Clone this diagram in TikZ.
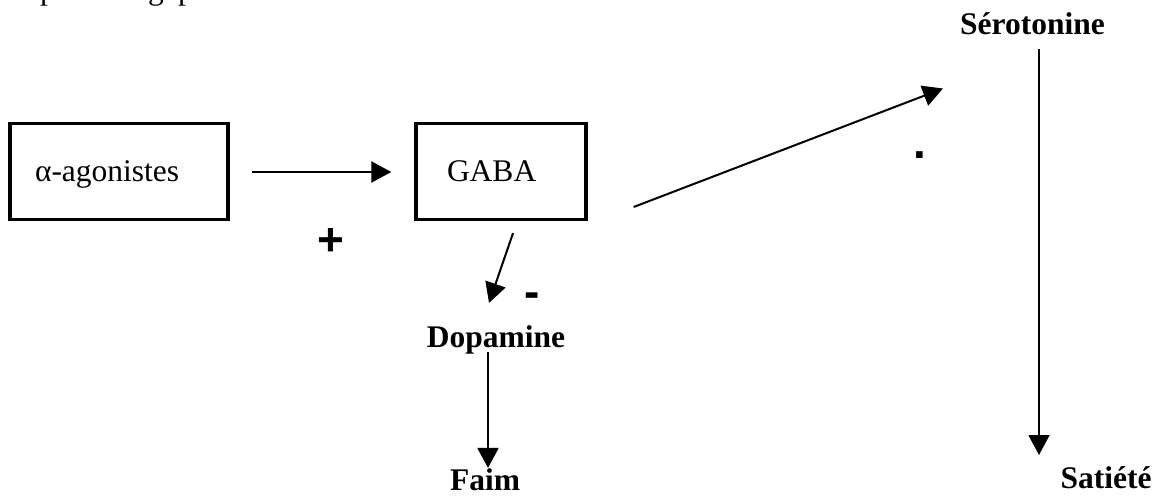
\documentclass[tikz,border=0pt]{standalone}
\usepackage{fontspec}
\setmainfont{Liberation Serif}
\newfontfamily\signfont{Liberation Sans}
\usetikzlibrary{arrows.meta}

\begin{document}
\begin{tikzpicture}[x=1pt,y=-1pt,
  every node/.style={inner sep=0pt, font=\fontsize{31.5}{38}\selectfont},
  box/.style={draw, line width=3.3pt, rectangle, minimum height=96pt,
    align=left, text height=23pt, text depth=3pt},
  term/.style={font=\fontsize{31.5}{38}\selectfont\bfseries, anchor=base},
  sign/.style={font=\fontsize{46}{50}\selectfont\signfont\bfseries, anchor=base},
  arr/.style={line width=2pt, -{Triangle[length=20pt,width=21pt]}},
]
\useasboundingbox (0,0) rectangle (1159,497);

% descenders of the line of text running above the page
\begin{scope}
  \clip (0,0) rectangle (1159,497);
  \node[anchor=base west] (frag1) at (40,0) {p};
  \node[anchor=base west] (frag2) at (148,0) {g};
  \node[anchor=base west] (frag3) at (178,0) {p};
\end{scope}

% boxes
\node[box, inner xsep=25pt, text width=168pt] (ago) at (119,171.5) {α-agonistes};
\node[box, inner xsep=31pt, text width=108pt] (gaba) at (501,171.5) {GABA};

% neurotransmitters and effects
\node[term] (dop)  at (496,347)   {Dopamine};
\node[term] (faim) at (485,490)   {Faim};
\node[term] (sero) at (1032.5,35) {Sérotonine};
\node[term] (sat)  at (1106,488)  {Satiété};

% signs
\node[sign] (plus)  at (330.5,255) {+};
\node[sign] (minus) at (532.5,307) {-};
\node[sign] (dot)   at (920,159)   {.};

% connectors
\draw[arr] ([xshift=22pt,yshift=-0.5pt]ago.east) -- ([xshift=-23pt,yshift=-0.5pt]gaba.west);
\draw[arr] ([xshift=12pt,yshift=-12pt]gaba.south) -- ([xshift=-7pt,yshift=22pt]dop.north);
\draw[arr] ([xshift=-8pt,yshift=2pt]dop.south) -- ([xshift=3pt]faim.north);
\draw[arr] ([xshift=46pt,yshift=-35.5pt]gaba.east) -- ([xshift=-17pt,yshift=-53pt]sero.south west);
\coordinate (sattip) at (1039,455);
\draw[arr] ([xshift=6.5pt,yshift=-13pt]sero.south) -- (sattip);
\end{tikzpicture}
\end{document}
